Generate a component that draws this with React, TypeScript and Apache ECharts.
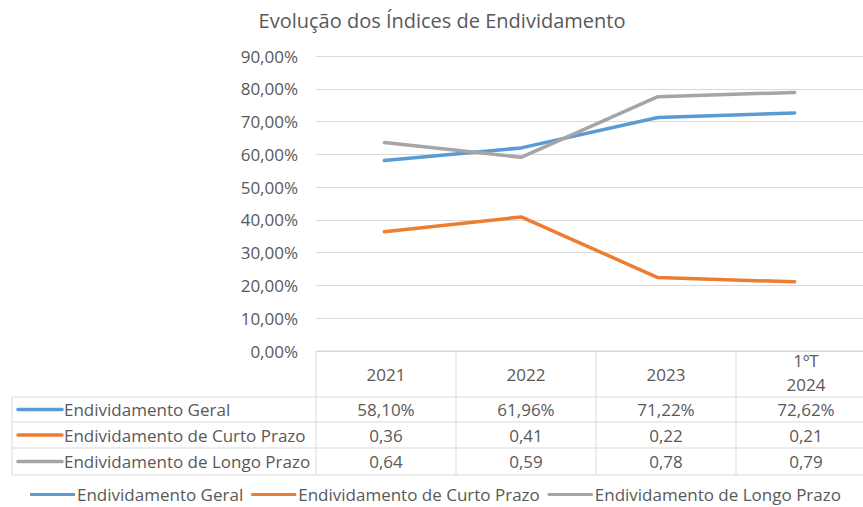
import React, { useEffect, useRef } from "react";
import * as echarts from "echarts";

const categories = ["2021", "2022", "2023", "1ºT\n2024"];
const seriesNames = [
  "Endividamento Geral",
  "Endividamento de Curto Prazo",
  "Endividamento de Longo Prazo",
];
const geral = [0.581, 0.6196, 0.7122, 0.7262];
const curtoPrazo = [0.364, 0.409, 0.224, 0.211];
const longoPrazo = [0.636, 0.591, 0.776, 0.789];
const yTicks = { min: 0, max: 0.9, interval: 0.1 };
const colors = ["#5B9BD5", "#ED7D31", "#A5A5A5"];

const FONT = "'Open Sans', sans-serif";
const FS = 17;
const TXT = "#595959";
const BORDER = "#d9d9d9";

export default function App() {
  const ref = useRef<HTMLDivElement>(null);
  useEffect(() => {
    document.body.style.margin = "0";
    const chart = echarts.init(ref.current!, null, { renderer: "svg" });

    const gridLeft = 316;
    const gridTop = 56;
    const gridWidth = 560;
    const gridBottomY = 351;
    const n = categories.length;
    const colW = gridWidth / n;
    const tableLeft = 12;
    const rowEdges = [397, 422, 448, 475];
    const seriesData = [geral, curtoPrazo, longoPrazo];

    const fmtPct = (v: number) => (v * 100).toFixed(2).replace(".", ",") + "%";
    const fmtNum = (v: number) => v.toFixed(2).replace(".", ",");

    const g: any[] = [];
    const line = (x1: number, y1: number, x2: number, y2: number) =>
      g.push({
        type: "line",
        shape: { x1, y1, x2, y2 },
        style: { stroke: BORDER, lineWidth: 1 },
        silent: true,
      });
    line(gridLeft, gridBottomY, gridLeft + gridWidth, gridBottomY);
    for (let i = 0; i <= n; i++) {
      line(gridLeft + i * colW, gridBottomY, gridLeft + i * colW, rowEdges[rowEdges.length - 1]);
    }
    rowEdges.forEach((y) => line(tableLeft, y, gridLeft + gridWidth, y));
    line(tableLeft, rowEdges[0], tableLeft, rowEdges[rowEdges.length - 1]);

    const headerMid = (gridBottomY + rowEdges[0]) / 2;
    const headerLineH = 24;
    categories.forEach((c, i) => {
      const parts = c.split("\n");
      parts.forEach((p, k) => {
        g.push({
          type: "text",
          x: gridLeft + (i + 0.5) * colW,
          y:
            parts.length > 1
              ? headerMid - 2 + (k - (parts.length - 1) / 2) * headerLineH
              : headerMid,
          style: {
            text: p,
            fill: TXT,
            font: `${FS}px ${FONT}`,
            align: "center",
            verticalAlign: "middle",
          },
          silent: true,
        });
      });
    });
    seriesData.forEach((arr, r) => {
      const cy = (rowEdges[r] + rowEdges[r + 1]) / 2;
      g.push({
        type: "line",
        shape: { x1: 18, y1: cy, x2: 62, y2: cy },
        style: { stroke: colors[r], lineWidth: 3.5, lineCap: "round" },
        silent: true,
      });
      g.push({
        type: "text",
        x: 64,
        y: cy,
        style: {
          text: seriesNames[r],
          fill: TXT,
          font: `${FS}px ${FONT}`,
          align: "left",
          verticalAlign: "middle",
        },
        silent: true,
      });
      arr.forEach((v, i) => {
        g.push({
          type: "text",
          x: gridLeft + (i + 0.5) * colW,
          y: cy,
          style: {
            text: r === 0 ? fmtPct(v) : fmtNum(v),
            fill: TXT,
            font: `${FS}px ${FONT}`,
            align: "center",
            verticalAlign: "middle",
          },
          silent: true,
        });
      });
    });

    chart.setOption({
      animation: false,
      backgroundColor: "#ffffff",
      title: {
        text: "Evolução dos Índices de Endividamento",
        left: 437,
        textAlign: "center",
        top: 5,
        textStyle: { fontFamily: FONT, fontSize: 20, fontWeight: "normal", color: TXT },
      },
      grid: { left: gridLeft, top: gridTop, width: gridWidth, height: gridBottomY - gridTop },
      legend: {
        left: 30,
        top: 486,
        padding: 0,
        icon: "rect",
        itemWidth: 45,
        itemHeight: 3,
        itemGap: 8,
        textStyle: { fontFamily: FONT, fontSize: FS, color: TXT, padding: [0, 0, 0, -3] },
        data: seriesNames,
      },
      xAxis: {
        type: "category",
        data: categories,
        boundaryGap: true,
        axisLine: { show: false },
        axisTick: { show: false },
        axisLabel: { show: false },
      },
      yAxis: {
        type: "value",
        min: yTicks.min,
        max: yTicks.max,
        interval: yTicks.interval,
        axisLine: { show: false },
        axisTick: { show: false },
        splitLine: { lineStyle: { color: BORDER, width: 1 } },
        axisLabel: {
          margin: 18,
          color: TXT,
          fontFamily: FONT,
          fontSize: FS,
          formatter: (v: number) => (v * 100).toFixed(2).replace(".", ",") + "%",
        },
      },
      series: seriesData.map((d, i) => ({
        name: seriesNames[i],
        type: "line",
        data: d,
        symbol: "none",
        color: colors[i],
        lineStyle: { width: 3.5, color: colors[i], cap: "round" },
      })),
      graphic: g,
    });
    return () => chart.dispose();
  }, []);
  return <div ref={ref} style={{ width: 863, height: 507 }} />;
}
